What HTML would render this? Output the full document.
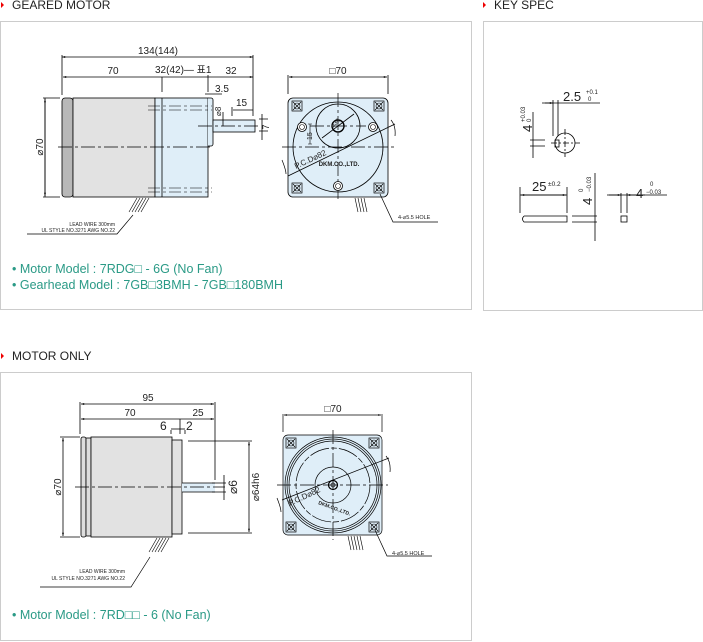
<!DOCTYPE html>
<html><head><meta charset="utf-8"><style>
body{margin:0;width:703px;height:642px;background:#fff;overflow:hidden;font-family:"Liberation Sans","Noto Sans CJK KR",sans-serif}
svg{position:absolute;left:0;top:0}
</style></head><body>
<svg width="703" height="642" viewBox="0 0 703 642" font-family="Liberation Sans, Noto Sans CJK KR, sans-serif">
<defs>
<marker id="a" viewBox="0 0 10 10" refX="10" refY="5" markerWidth="6" markerHeight="4" orient="auto-start-reverse"><path d="M0,2 L10,5 L0,8z" fill="#000"/></marker>
<g id="xh"><rect x="-5" y="-5" width="10" height="10" fill="none" stroke="#000" stroke-width="0.7"/><path d="M-4,-4L4,4M4,-4L-4,4" stroke="#000" stroke-width="0.7"/><circle r="3" fill="none" stroke="#000" stroke-width="0.6"/></g>
<g id="sc"><circle r="4.5" fill="#fff" stroke="#000" stroke-width="0.8"/><circle r="2.5" fill="none" stroke="#000" stroke-width="0.6"/></g>
</defs>
<!-- headings -->
<g font-size="12" fill="#222">
<path d="M1,2L4,5L1,8z" fill="#e00"/><text x="12" y="9">GEARED MOTOR</text>
<path d="M483,2L486,5L483,8z" fill="#e00"/><text x="494" y="9">KEY SPEC</text>
<path d="M1,353L4,356L1,359z" fill="#e00"/><text x="12" y="360">MOTOR ONLY</text>
</g>
<rect x="0.5" y="21.5" width="471" height="288" fill="none" stroke="#ccc"/>
<rect x="483.5" y="21.5" width="219" height="289" fill="none" stroke="#ccc"/>
<rect x="0.5" y="372.5" width="471" height="268" fill="none" stroke="#ccc"/>

<!-- GEARED MOTOR side -->
<g stroke="#000" stroke-width="0.8" fill="none">
<rect x="62" y="98" width="11" height="99" rx="3" fill="#b8b8b8"/>
<rect x="73" y="98" width="82" height="99" fill="#e2e2e2"/>
<rect x="155" y="98" width="53" height="99" fill="#dfeef8"/>
<line x1="162" y1="98" x2="162" y2="197"/>
<path d="M208,98 h3 a2,2 0 0 1 2,2 v44 a2,2 0 0 1 -2,2 h-3" fill="#dfeef8"/>
<rect x="213" y="120" width="42" height="12" fill="#dfeef8"/>
<path d="M148,106 H212 M148,110 H212 M148,188 H212 M148,192 H212" stroke-dasharray="12,3,3,3" stroke-width="0.6"/>
<path d="M58,147 H212 M198,126 H258" stroke-dasharray="14,3,3,3" stroke-width="0.7"/>
<line x1="62" y1="57" x2="253" y2="57" marker-start="url(#a)" marker-end="url(#a)"/>
<line x1="63" y1="77" x2="253" y2="77" marker-start="url(#a)" marker-end="url(#a)"/>
<path d="M62,55 V95 M162,77 V92 M253,55 V116 M208,75 V92 M205,94 H222 M233,110 H253 M232,107 V116 M223,112 V126 M262,114 V140 M259,119 H268 M259,131 H268 M45,98 V197 M43,98 H60 M43,197 H60"/>
<line x1="45" y1="99" x2="45" y2="196" marker-start="url(#a)" marker-end="url(#a)"/>
<path d="M137,198 l-8,14 M140,198 l-8,14 M143,198 l-8,14 M146,198 l-8,14 M149,198 l-8,14" stroke-width="0.6"/>
<path d="M133,215 L117,234 H27" stroke-width="0.7"/>
</g>
<g font-size="10" fill="#222">
<text x="158" y="54" text-anchor="middle">134(144)</text>
<text x="113" y="74" text-anchor="middle">70</text>
<text x="155" y="73">32(42)— 표1</text>
<text x="231" y="74" text-anchor="middle">32</text>
<text x="215" y="92">3.5</text>
<text x="236" y="106">15</text>
<text transform="translate(43,147) rotate(-90)" text-anchor="middle">⌀70</text>
<text transform="translate(221,116) rotate(-90)" font-size="8">⌀8</text>
<text transform="translate(269,127) rotate(-90)" font-size="9" text-anchor="middle">7</text>
<text x="115" y="226" font-size="5" text-anchor="end">LEAD WIRE 300mm</text>
<text x="115" y="232" font-size="5" text-anchor="end">UL STYLE NO.3271 AWG NO.22</text>
</g>

<!-- GEARED front -->
<g stroke="#000" stroke-width="0.8" fill="none">
<rect x="288" y="98" width="100" height="99" rx="5" fill="#dfeef8"/>
<circle cx="338" cy="147" r="45"/>
<circle cx="338" cy="126" r="22"/>
<circle cx="338" cy="126" r="6" stroke-width="1.4"/>
<path d="M282,147 H394 M338,93 V201 M310,126 H366" stroke-dasharray="14,3,3,3" stroke-width="0.7"/>
<path d="M288,75 V94 M388,75 V94 M288,176 L395,124 M322,138 L354,114"/>
<line x1="289" y1="77" x2="387" y2="77" marker-start="url(#a)" marker-end="url(#a)"/>
<path d="M282,160 q4,10 4,14 M391,120 q5,6 4,16" stroke-width="0.7"/>
<path d="M310,124 V144 M308,124 h4 M308,144 h4" stroke-width="0.6"/>
<path d="M355,198 l3,14 M358,198 l3,14 M361,198 l3,14 M364,198 l3,14" stroke-width="0.6"/>
<path d="M380,194 L393,222 H438" stroke-width="0.7"/>
</g>
<use href="#xh" x="297" y="106"/><use href="#xh" x="379" y="106"/><use href="#xh" x="297" y="188"/><use href="#xh" x="379" y="188"/>
<use href="#sc" x="302" y="127"/><use href="#sc" x="373" y="127"/><use href="#sc" x="338" y="186"/>
<g fill="#222">
<text x="338" y="74" font-size="10" text-anchor="middle">□70</text>
<text x="339" y="166" font-size="6" font-weight="bold" text-anchor="middle">DKM.CO.,LTD.</text>
<text transform="translate(296,169) rotate(-25)" font-size="8">P.C.D⌀82</text>
<text transform="translate(333,128) rotate(-45)" font-size="6">⌀30</text>
<text transform="translate(312,140) rotate(-90)" font-size="7">15</text>
<text x="398" y="219" font-size="5.5">4-⌀5.5 HOLE</text>
</g>
<g font-size="12.5" fill="#2a9a86">
<text x="12" y="273">•  Motor Model : 7RDG□ - 6G (No Fan)</text>
<text x="12" y="289">•  Gearhead Model : 7GB□3BMH - 7GB□180BMH</text>
<text x="12" y="619">•  Motor Model : 7RD□□ - 6 (No Fan)</text>
</g>

<!-- KEY SPEC -->
<g stroke="#000" stroke-width="0.8" fill="none">
<line x1="542" y1="103" x2="600" y2="103"/>
<line x1="545" y1="103" x2="553" y2="103" marker-end="url(#a)"/>
<path d="M553,100 V136 M558,100 V136"/>
<circle cx="565" cy="143" r="10"/>
<rect x="555" y="140" width="4" height="7"/>
<path d="M551,143 H580 M565,129 V157" stroke-dasharray="6,2,2,2"/>
<path d="M533,112 V158 M530,140 H545 M530,146 H545"/>
<path d="M520,187 V213 M567,187 V213 M520,195 H567 M571,187"/>
<line x1="521" y1="195" x2="566" y2="195" marker-start="url(#a)" marker-end="url(#a)"/>
<path d="M524,216 H567 V222 H524 Q521,219 524,216"/>
<path d="M572,216 H597 M572,222 H597 M595,173 V241"/>
<rect x="621" y="216" width="6" height="6"/>
<path d="M621,193 V213 M627,193 V213 M607,195 H667"/>
<line x1="609" y1="195" x2="621" y2="195" marker-end="url(#a)"/>
<line x1="645" y1="195" x2="627" y2="195" marker-end="url(#a)"/>
</g>
<g fill="#222">
<text x="563" y="101" font-size="13">2.5</text><text x="586" y="94" font-size="6">+0.1</text><text x="588" y="101" font-size="6">0</text>
<text transform="translate(532,132) rotate(-90)" font-size="13">4</text><text transform="translate(525,122) rotate(-90)" font-size="6">+0.03</text><text transform="translate(531,122) rotate(-90)" font-size="6">0</text>
<text x="532" y="191" font-size="13">25</text><text x="548" y="186" font-size="6.5">±0.2</text>
<text transform="translate(592,205) rotate(-90)" font-size="13">4</text><text transform="translate(583,192) rotate(-90)" font-size="6">0</text><text transform="translate(591,192) rotate(-90)" font-size="6">−0.03</text>
<text x="636" y="198" font-size="13">4</text><text x="650" y="186" font-size="6">0</text><text x="646" y="194" font-size="6">−0.03</text>
</g>

<!-- MOTOR ONLY side -->
<g stroke="#000" stroke-width="0.8" fill="none">
<rect x="81" y="437" width="5" height="100" rx="2" fill="#ddd"/>
<rect x="86" y="438" width="5" height="98" fill="#ddd"/>
<rect x="91" y="437" width="81" height="100" fill="#e2e2e2"/>
<rect x="172" y="440" width="10" height="94" fill="#e2e2e2"/>
<rect x="182" y="483" width="33" height="9" fill="#dfeef8" stroke="none"/>
<path d="M182,483 H215 M182,492 H215"/>
<path d="M75,487 H225" stroke-dasharray="14,3,3,3" stroke-width="0.7"/>
<path d="M80,402 V434 M215,402 V480 M180,419 V434 M171,430 V434 M185,430 V434"/>
<line x1="81" y1="404" x2="214" y2="404" marker-start="url(#a)" marker-end="url(#a)"/>
<line x1="81" y1="419" x2="214" y2="419" marker-start="url(#a)" marker-end="url(#a)"/>
<path d="M171,429 H185"/>
<line x1="63" y1="438" x2="63" y2="536" marker-start="url(#a)" marker-end="url(#a)"/>
<path d="M60,437 H80 M60,537 H80 M188,441 H252 M188,533 H252 M212,483 H226 M212,492 H226 M224,475 V500"/>
<line x1="249" y1="442" x2="249" y2="532" marker-start="url(#a)" marker-end="url(#a)"/>
<path d="M157,538 l-8,14 M160,538 l-8,14 M163,538 l-8,14 M166,538 l-8,14 M169,538 l-8,14" stroke-width="0.6"/>
<path d="M150,557 L131,587 H40" stroke-width="0.7"/>
</g>
<g font-size="10" fill="#222">
<text x="148" y="401" text-anchor="middle">95</text>
<text x="130" y="416" text-anchor="middle">70</text>
<text x="198" y="416" text-anchor="middle">25</text>
<text x="160" y="430" font-size="12">6</text><text x="186" y="430" font-size="12">2</text>
<text transform="translate(61,487) rotate(-90)" text-anchor="middle">⌀70</text>
<text transform="translate(237,487) rotate(-90)" font-size="12" text-anchor="middle">⌀6</text>
<text transform="translate(259,487) rotate(-90)" text-anchor="middle">⌀64h6</text>
<text x="125" y="573" font-size="5" text-anchor="end">LEAD WIRE 300mm</text>
<text x="125" y="580" font-size="5" text-anchor="end">UL STYLE NO.3271 AWG NO.22</text>
</g>

<!-- MOTOR ONLY front -->
<g stroke="#000" stroke-width="0.7" fill="none">
<rect x="283" y="435" width="99" height="100" rx="5" fill="#dfeef8"/>
<circle cx="333" cy="485" r="48"/>
<circle cx="333" cy="485" r="46"/>
<circle cx="333" cy="485" r="44"/>
<circle cx="333" cy="485" r="37" stroke-dasharray="20,2,6,2"/>
<circle cx="333" cy="485" r="18"/>
<circle cx="333" cy="485" r="4.5" stroke-width="1.2"/>
<circle cx="333" cy="485" r="2"/>
<path d="M277,485 H388 M333,430 V540" stroke-dasharray="14,3,3,3"/>
<path d="M283,414 V432 M382,414 V432 M282,500 L389,458"/>
<line x1="284" y1="415" x2="381" y2="415" marker-start="url(#a)" marker-end="url(#a)"/>
<path d="M277,498 q4,10 4,14 M386,456 q5,6 4,16"/>
<path d="M348,536 l3,14 M351,536 l3,14 M354,536 l3,14 M357,536 l3,14 M360,536 l3,14" stroke-width="0.6"/>
<path d="M375,530 L387,556 H432"/>
</g>
<use href="#xh" x="291" y="443"/><use href="#xh" x="374" y="443"/><use href="#xh" x="291" y="527"/><use href="#xh" x="374" y="527"/>
<g fill="#222">
<text x="333" y="412" font-size="10" text-anchor="middle">□70</text>
<text transform="translate(318,504) rotate(20)" font-size="5" font-weight="bold">DKM.CO.,LTD.</text>
<text transform="translate(290,506) rotate(-25)" font-size="8">P.C.D⌀82</text>
<text x="392" y="555" font-size="5.5">4-⌀5.5 HOLE</text>
</g>
</svg>
</body></html>
